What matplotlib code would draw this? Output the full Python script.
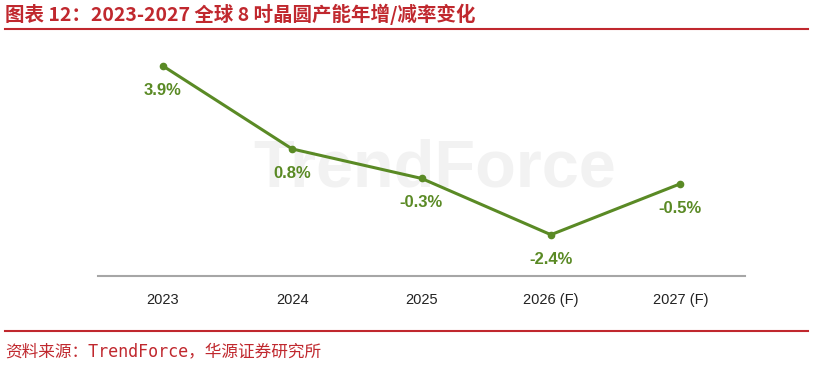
import matplotlib.pyplot as plt
from matplotlib.lines import Line2D

plt.rcParams['font.family'] = ['Noto Sans CJK SC', 'DejaVu Sans']

years = ['2023', '2024', '2025', '2026 (F)', '2027 (F)']
growth = [3.9, 0.8, -0.3, -2.4, -0.5]
labels = ['3.9%', '0.8%', '-0.3%', '-2.4%', '-0.5%']

green = '#5a8a25'
red = '#c0282e'

fig = plt.figure(figsize=(8.15, 3.65), dpi=100)
ax = fig.add_axes([98 / 815, 1 - 276 / 365, (745 - 98) / 815, (276 - 50) / 365])

# faint watermark
ax.text(0.52, 0.47, 'TrendForce', transform=ax.transAxes, ha='center', va='center',
        fontsize=48, fontweight='bold', color='#f2f2f2', family='Liberation Sans', zorder=0)

x = list(range(len(years)))
ax.plot(x, growth, color=green, lw=2.2, marker='o', ms=4.5, zorder=3)
for xi, yi, lab in zip(x, growth, labels):
    ax.annotate(lab, (xi, yi), xytext=(0, -17.5), textcoords='offset points',
                ha='center', va='center', fontsize=12, fontweight='bold',
                color=green, family='Liberation Sans')

ax.set_xlim(-0.5, 4.5)
ax.set_ylim(-3.94, 4.49)
ax.set_xticks(x)
ax.set_xticklabels(years, family='Liberation Sans', fontsize=10.5, color='#222222')
ax.set_yticks([])
for s in ['top', 'right', 'left']:
    ax.spines[s].set_visible(False)
ax.spines['bottom'].set_color('#a6a6a6')
ax.spines['bottom'].set_linewidth(1.5)
ax.tick_params(axis='x', length=0, pad=12)

fig.text(5 / 815, 1 - 14 / 365, '图表 12：2023-2027 全球 8 吋晶圆产能年增/减率变化',
         color=red, fontsize=14, fontweight='bold', va='center', ha='left')
fig.add_artist(Line2D([5 / 815, 808 / 815], [1 - 29 / 365] * 2, color=red, lw=1.5))
fig.add_artist(Line2D([5 / 815, 808 / 815], [1 - 331 / 365] * 2, color=red, lw=1.5))
fig.text(5 / 815, 1 - 351 / 365, '资料来源：TrendForce，华源证券研究所',
         color=red, fontsize=12, va='center', ha='left',
         family=['DejaVu Sans Mono', 'Noto Sans CJK SC'])

fig.savefig('out.png', dpi=100)
